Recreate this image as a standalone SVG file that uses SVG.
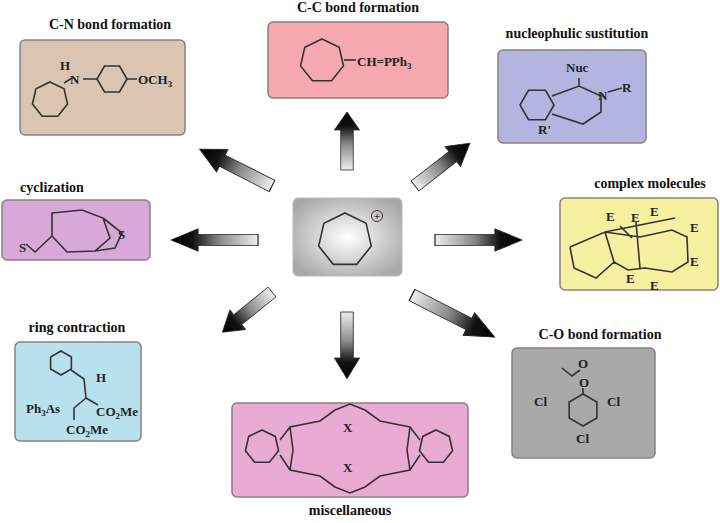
<svg xmlns="http://www.w3.org/2000/svg" width="720" height="523" viewBox="0 0 720 523">
<style>
.t{font-family:"Liberation Serif",serif;font-weight:bold;font-size:14px;fill:#111;text-anchor:middle}
.l{font-family:"Liberation Serif",serif;font-weight:bold;font-size:13px;fill:#222}
.box{stroke:#8a7f7f;stroke-width:1.5}
.m{fill:none;stroke:#333;stroke-width:1.6;vector-effect:non-scaling-stroke}
.arr{fill:url(#ag);stroke:#222;stroke-width:0.8}
</style>
<defs>
<linearGradient id="ag" x1="0" y1="0" x2="1" y2="0"><stop offset="0" stop-color="#eee"/><stop offset="0.45" stop-color="#888"/><stop offset="0.75" stop-color="#111"/><stop offset="1" stop-color="#000"/></linearGradient>
<radialGradient id="cg" cx="0.5" cy="0.5" r="0.6"><stop offset="0" stop-color="#fff"/><stop offset="1" stop-color="#a8a8a8"/></radialGradient>
<path id="hep" class="m" d="M0,-1 L0.782,-0.623 L0.975,0.223 L0.434,0.901 L-0.434,0.901 L-0.975,0.223 L-0.782,-0.623Z"/>
<path id="hex" class="m" d="M0,-1 L0.866,-0.5 L0.866,0.5 L0,1 L-0.866,0.5 L-0.866,-0.5Z"/>
<path id="ar" d="M0,-7 L40,-7 L40,-14 L58,0 L40,14 L40,7 L0,7Z"/>
</defs>
<rect width="720" height="523" fill="#fff"/>

<g id="center"><rect x="293" y="198" width="109" height="78" rx="5" fill="url(#cg)" stroke="#bbb"/>
<use href="#hep" transform="translate(345,240) scale(27)"/>
<circle cx="377" cy="216" r="5.5" fill="none" stroke="#333"/><text x="377" y="220" class="l" style="font-size:10px" text-anchor="middle">+</text></g>

<g id="cn"><text x="110" y="29" class="t">C-N bond formation</text>
<rect x="20" y="40" width="165" height="95" rx="5" fill="#d9c5b2" class="box"/>
<use href="#hep" transform="translate(50,100) scale(18)"/>
<use href="#hex" transform="translate(112,79) rotate(90) scale(15)"/>
<path class="m" d="M64,83 L72,78 M83,79 L97,79 M127,79 L137,79"/>
<text x="60" y="70" class="l">H</text><text x="70" y="84" class="l">N</text><text x="138" y="84" class="l">OCH<tspan font-size="9" dy="3">3</tspan></text></g>

<g id="cc"><text x="358" y="12" class="t">C-C bond formation</text>
<rect x="268" y="22" width="180" height="76" rx="5" fill="#f5a8ae" class="box"/>
<use href="#hep" transform="translate(322,61) scale(22)"/>
<path class="m" d="M344,60 L356,60"/>
<text x="357" y="66" class="l">CH=PPh<tspan font-size="9" dy="3">3</tspan></text></g>

<g id="nuc"><text x="577" y="38" class="t">nucleophulic sustitution</text>
<rect x="498" y="50" width="148" height="93" rx="5" fill="#b4b4e0" class="box"/>
<use href="#hex" transform="translate(537,105) rotate(90) scale(17)"/>
<path class="m" d="M552,96 L579,86 L601,96 L601,112 L583,124 L552,114 M579,86 L579,78 M608,92 L622,88"/>
<text x="566" y="72" class="l">Nuc</text><text x="598" y="100" class="l">N</text><text x="622" y="92" class="l">R</text><text x="538" y="134" class="l">R'</text></g>

<g id="cyc"><text x="52" y="192" class="t">cyclization</text>
<rect x="2" y="200" width="148" height="60" rx="5" fill="#d8a8d8" class="box"/>
<path class="m" d="M52,213 L82,210 L103,218 L110,238 L95,251 L67,252 L52,236 Z M52,236 L35,252 L26,244 M103,218 L122,233 L115,248 L95,251"/>
<text x="19" y="252" class="l">S</text><text x="118" y="239" class="l">S</text></g>

<g id="cm"><text x="650" y="188" class="t">complex molecules</text>
<rect x="560" y="198" width="158" height="92" rx="5" fill="#f6f0a0" class="box"/>
<path class="m" d="M570,247 L605,232 L640,237 L672,230 L687,237 L688,262 L672,272 L645,268 L628,270 L614,262 M570,247 L574,268 L596,278 L614,262 L605,232 M636,222 L640,268 M620,226 L632,238 M605,232 L675,218"/>
<text x="606" y="221" class="l">E</text><text x="631" y="222" class="l">E</text><text x="650" y="216" class="l">E</text><text x="690" y="232" class="l">E</text><text x="690" y="266" class="l">E</text><text x="626" y="283" class="l">E</text><text x="650" y="290" class="l">E</text></g>

<g id="rc"><text x="77" y="332" class="t">ring contraction</text>
<rect x="15" y="342" width="126" height="99" rx="5" fill="#b8e1ee" class="box"/>
<use href="#hex" transform="translate(61,363) scale(12)"/>
<path class="m" d="M71,370 L84,379 L86,398 L74,408 L74,420 M86,398 L98,405"/>
<text x="96" y="382" class="l">H</text><text x="26" y="413" class="l">Ph<tspan font-size="9" dy="3">3</tspan><tspan dy="-3">As</tspan></text>
<text x="96" y="416" class="l">CO<tspan font-size="9" dy="3">2</tspan><tspan dy="-3">Me</tspan></text>
<text x="66" y="434" class="l">CO<tspan font-size="9" dy="3">2</tspan><tspan dy="-3">Me</tspan></text></g>

<g id="misc"><rect x="232" y="403" width="236" height="94" rx="5" fill="#e9abd3" class="box"/>
<use href="#hep" transform="translate(262,447) scale(17)"/>
<use href="#hep" transform="translate(436,447) scale(17)"/>
<path class="m" d="M280,440 L290,427 L320,421 L335,410 L350,404 L365,410 L380,421 L410,427 L420,440 M280,455 L290,470 L320,476 L335,487 L350,493 L365,487 L380,476 L410,470 L420,455 M290,427 L293,450 L290,470 M410,427 L407,450 L410,470"/>
<text x="343" y="432" class="l">X</text><text x="343" y="472" class="l">X</text>
<text x="350" y="515" class="t">miscellaneous</text></g>

<g id="co"><text x="600" y="339" class="t">C-O bond formation</text>
<rect x="512" y="348" width="143" height="110" rx="5" fill="#a9a9a9" class="box"/>
<use href="#hex" transform="translate(583,410) scale(16)"/>
<path class="m" d="M583,394 L583,388 M580,370 L572,376 L562,368"/>
<text x="578" y="368" class="l">O</text><text x="579" y="387" class="l">O</text>
<text x="534" y="406" class="l">Cl</text><text x="607" y="406" class="l">Cl</text><text x="576" y="443" class="l">Cl</text></g>

<g id="connectors">
<use href="#ar" class="arr" transform="translate(347,170) rotate(-90) scale(1,0.9)"/>
<use href="#ar" class="arr" transform="translate(272,186) rotate(-153) scale(1.4,0.9)"/>
<use href="#ar" class="arr" transform="translate(415,186) rotate(-38) scale(1.2,0.9)"/>
<use href="#ar" class="arr" transform="translate(258,240) rotate(180) scale(1.5,0.8)"/>
<use href="#ar" class="arr" transform="translate(435,240) scale(1.5,0.8)"/>
<use href="#ar" class="arr" transform="translate(272,292) rotate(141) scale(1.1,0.9)"/>
<use href="#ar" class="arr" transform="translate(347,312) rotate(90) scale(1.15,0.9)"/>
<use href="#ar" class="arr" transform="translate(412,295) rotate(27) scale(1.6,0.9)"/>
</g>
</svg>
